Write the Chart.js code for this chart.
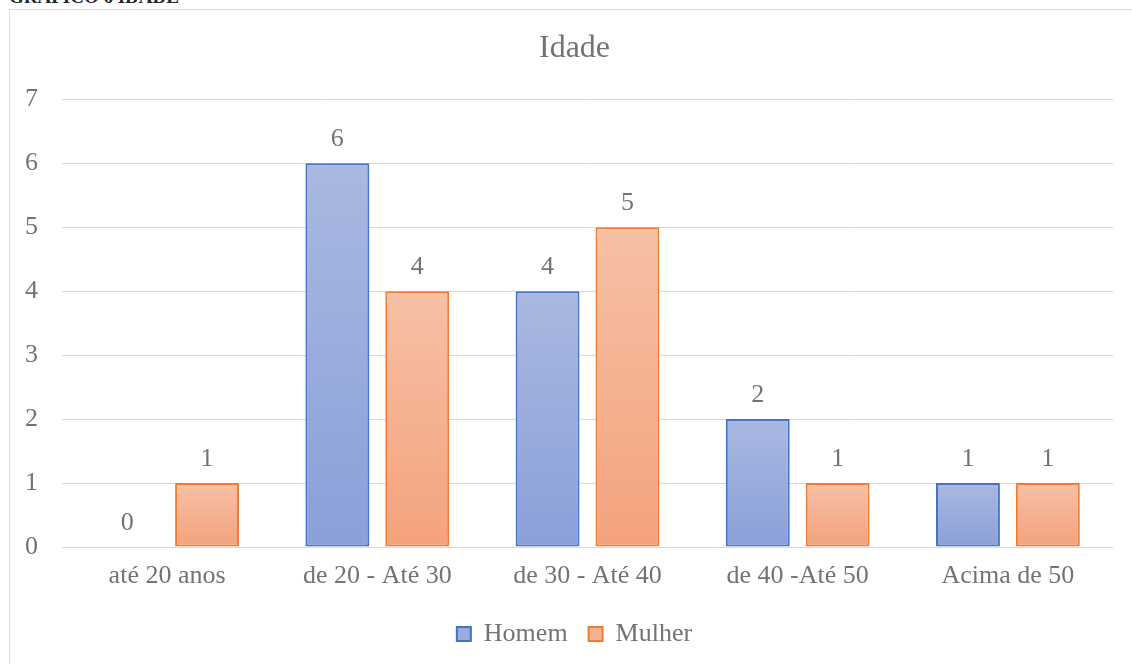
<!DOCTYPE html>
<html lang="pt">
<head>
<meta charset="UTF-8">
<title>Gráfico 6 Idade</title>
<script src="https://cdn.jsdelivr.net/npm/chart.js"></script>
<style>
    html, body { margin: 0; padding: 0; background: #fff; overflow: hidden; }
    body { width: 1132px; height: 664px; position: relative; }
    #cabecalho {
        position: absolute; left: 9px; top: -13px;
        font: bold 19px "Liberation Serif", "Times New Roman", serif;
        line-height: 19px; color: #262626; white-space: nowrap;
    }
    #caixa {
        position: absolute; left: 9px; top: 9px;
        width: 1140px; height: 680px;
        border: 1px solid #d9d9d9;
    }
    #grafico { position: absolute; left: 0; top: 0; }
</style>
</head>
<body>
<div id="cabecalho">GRÁFICO 6 IDADE</div>
<div id="caixa">
    <canvas id="grafico" width="1130" height="654"></canvas>
</div>
<script>
    // faixas etárias e quantidade por sexo
    const categorias = ['até 20 anos', 'de 20 - Até 30', 'de 30 - Até 40', 'de 40 -Até 50', 'Acima de 50'];
    const homem = [0, 6, 4, 2, 1];
    const mulher = [1, 4, 5, 1, 1];
    const eixoY = [0, 1, 2, 3, 4, 5, 6, 7];

    const fonte = '"Liberation Serif", "Times New Roman", serif';
    const cinza = '#737373';

    // degradê vertical dentro de cada barra
    function degrade(topo, base, solido) {
        return function (ctx) {
            if (ctx.type !== 'data') return solido;
            const chart = ctx.chart;
            const y = chart.scales.y;
            if (!chart.chartArea || !y) return solido;
            const y0 = y.getPixelForValue(ctx.parsed.y);
            const y1 = y.getPixelForValue(0);
            if (Math.abs(y1 - y0) < 1) return solido;
            const g = chart.ctx.createLinearGradient(0, y0, 0, y1);
            g.addColorStop(0, topo);
            g.addColorStop(1, base);
            return g;
        };
    }

    // rótulos de valor acima das barras
    const rotulos = {
        id: 'rotulos',
        afterDatasetsDraw(chart) {
            const c = chart.ctx;
            c.save();
            c.font = '26px ' + fonte;
            c.fillStyle = cinza;
            c.textAlign = 'center';
            c.textBaseline = 'alphabetic';
            chart.data.datasets.forEach((ds, i) => {
                chart.getDatasetMeta(i).data.forEach((bar, j) => {
                    c.fillText(String(ds.data[j]), bar.x, bar.y - 17);
                });
            });
            c.restore();
        }
    };

    const cores = {
        homem: { borda: '#4472c4', topo: '#aab8e1', base: '#8aa0d9' },
        mulher: { borda: '#ed7d31', topo: '#f7c0a5', base: '#f4a27d' }
    };

    new Chart(document.getElementById('grafico'), {
        type: 'bar',
        data: {
            labels: categorias,
            datasets: [
                {
                    label: 'Homem',
                    data: homem,
                    backgroundColor: degrade(cores.homem.topo, cores.homem.base, '#9aacdd'),
                    borderColor: cores.homem.borda,
                    borderWidth: ctx => (ctx.raw === 0 ? 0 : 2),
                    borderSkipped: false
                },
                {
                    label: 'Mulher',
                    data: mulher,
                    backgroundColor: degrade(cores.mulher.topo, cores.mulher.base, '#f5b192'),
                    borderColor: cores.mulher.borda,
                    borderWidth: ctx => (ctx.raw === 0 ? 0 : 2),
                    borderSkipped: false
                }
            ]
        },
        options: {
            responsive: false,
            animation: false,
            categoryPercentage: 0.76,
            barPercentage: 0.8,
            layout: { padding: { left: 0, right: 1, top: 0, bottom: 7 } },
            plugins: {
                title: {
                    display: true,
                    text: 'Idade',
                    color: cinza,
                    font: { family: fonte, size: 32, weight: 'normal' },
                    padding: { top: 19, bottom: 32 }
                },
                legend: {
                    position: 'bottom',
                    labels: {
                        color: cinza,
                        font: { family: fonte, size: 26 },
                        boxWidth: 14,
                        boxHeight: 14,
                        padding: 21,
                        generateLabels(chart) {
                            const itens = Chart.defaults.plugins.legend.labels.generateLabels(chart);
                            const fundos = ['#9aacdd', '#f5b192'];
                            itens.forEach((it, i) => {
                                it.fillStyle = fundos[i];
                                it.lineWidth = 2;
                            });
                            return itens;
                        }
                    }
                },
                tooltip: { enabled: false }
            },
            scales: {
                x: {
                    grid: { display: false },
                    border: { display: false },
                    afterFit(scale) { scale.height = 53; },
                    ticks: { color: cinza, font: { family: fonte, size: 26 }, padding: 6, maxRotation: 0 }
                },
                y: {
                    min: eixoY[0],
                    max: eixoY[eixoY.length - 1],
                    afterFit(scale) { scale.width = 52; },
                    afterBuildTicks(scale) { scale.ticks = eixoY.map(v => ({ value: v })); },
                    grid: { color: '#d9d9d9', lineWidth: 1, drawTicks: false },
                    border: { display: false },
                    ticks: { color: cinza, font: { family: fonte, size: 26 }, padding: 24 }
                },
                // margem vazia à direita da área de plotagem
                margem: {
                    type: 'linear',
                    position: 'right',
                    grid: { display: false },
                    border: { display: false },
                    ticks: { display: false },
                    afterFit(scale) { scale.width = 26; }
                }
            }
        },
        plugins: [rotulos]
    });
</script>
</body>
</html>
